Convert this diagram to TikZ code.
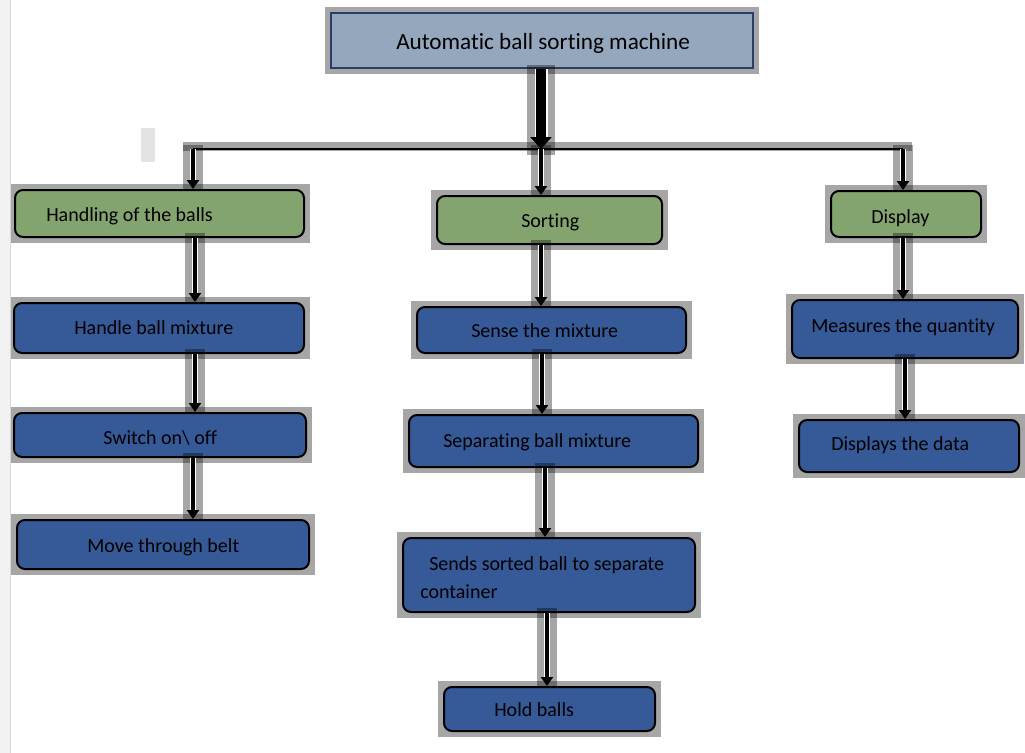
\documentclass[tikz,border=0pt]{standalone}
\usepackage{fontspec}
\setmainfont{Carlito}[Ligatures=NoCommon]
\usetikzlibrary{arrows.meta,backgrounds,calc}
\newdimen\pxu \pxu=0.75pt
\definecolor{topfill}{RGB}{148,167,188}
\definecolor{topline}{RGB}{38,62,104}
\definecolor{stepgreen}{RGB}{131,164,111}
\definecolor{stepblue}{RGB}{54,89,151}

\begin{document}
\begin{tikzpicture}[x=0.75pt,y=-0.75pt,
  box/.style={draw=black, line width=1.5pt, rounded corners=6pt, inner sep=0pt},
  greenbox/.style={box, fill=stepgreen},
  bluebox/.style={box, fill=stepblue},
  boxtext/.style={anchor=base west, inner sep=0pt, font=\fontsize{15}{18}\selectfont},
  halofill/.style={fill=black, opacity=0.35},
  haloline/.style={draw=black, opacity=0.35, line width=20\pxu},
  flow/.style={draw=black, line width=4\pxu, -{Triangle[width=9pt,length=6.75pt]},
    preaction={draw=white, line width=6\pxu, -, shorten >=8\pxu}},
  bigflow/.style={draw=black, line width=10\pxu, -{Triangle[width=15.75pt,length=9pt]},
    preaction={draw=white, line width=13\pxu, -, shorten >=12\pxu}}]
  \useasboundingbox (0,0) rectangle (1025,753);

  % page edge and stray mark
  \fill[gray!10] (0,0) rectangle (10,753);
  \draw[gray!30, line width=1\pxu] (10.5,0) -- (10.5,753);
  \fill[gray!22] (141,128) rectangle (155,162);

  % main box
  \node[draw=topline, line width=1.5pt, fill=topfill, minimum width=422\pxu,
    minimum height=55\pxu, inner sep=0pt] (top) at (542,40.5) {};
  \node[boxtext, font=\fontsize{17.4}{20}\selectfont] (top-t) at (396,49) {Automatic ball sorting machine};

  % level 1
  \node[greenbox, minimum width=289\pxu, minimum height=47\pxu] (hob) at (159.5,213.5) {};
  \node[greenbox, minimum width=225\pxu, minimum height=48\pxu] (srt) at (549.5,220) {};
  \node[greenbox, minimum width=150\pxu, minimum height=46\pxu] (dsp) at (906,214) {};
  \node[boxtext] (hob-t) at (46,221) {Handling of the balls};
  \node[boxtext] (srt-t) at (521,227) {Sorting};
  \node[boxtext] (dsp-t) at (871,223) {Display};

  % left column
  \node[bluebox, minimum width=290\pxu, minimum height=50\pxu] (hbm) at (159,328) {};
  \node[bluebox, minimum width=292\pxu, minimum height=44\pxu] (swo) at (160,435) {};
  \node[bluebox, minimum width=292\pxu, minimum height=49\pxu] (mtb) at (163,544.5) {};
  \node[boxtext] (hbm-t) at (74,334) {Handle ball mixture};
  \node[boxtext] (swo-t) at (103,444) {Switch on\textbackslash{} off};
  \node[boxtext] (mtb-t) at (87,552) {Move through belt};

  % middle column
  \node[bluebox, minimum width=269\pxu, minimum height=46\pxu] (stm) at (551.5,330) {};
  \node[bluebox, minimum width=289\pxu, minimum height=52\pxu] (sbm) at (553.5,441) {};
  \node[bluebox, minimum width=292\pxu, minimum height=74\pxu] (ssb) at (549,575) {};
  \node[bluebox, minimum width=211\pxu, minimum height=44\pxu] (hbl) at (549.5,709) {};
  \node[boxtext] (stm-t) at (471,337) {Sense the mixture};
  \node[boxtext] (sbm-t) at (443,447) {Separating ball mixture};
  \node[boxtext] (ssb-t1) at (429,570) {Sends sorted ball to separate};
  \node[boxtext] (ssb-t2) at (420,598) {container};
  \node[boxtext] (hbl-t) at (494,716) {Hold balls};

  % right column
  \node[bluebox, minimum width=226\pxu, minimum height=58\pxu] (mtq) at (905,329) {};
  \node[bluebox, minimum width=220\pxu, minimum height=52\pxu] (dtd) at (909,446) {};
  \node[boxtext] (mtq-t) at (811,332) {Measures the quantity};
  \node[boxtext] (dtd-t) at (831,450) {Displays the data};

  % grey frames behind the boxes
  \begin{scope}[on background layer]
    \foreach \n in {top,hob,srt,dsp,hbm,swo,mtb,stm,sbm,ssb,hbl,mtq,dtd}
      \fill[halofill] ([shift={(-5,5)}]\n.south west) rectangle ([shift={(5,-5)}]\n.north east);
  \end{scope}

  % bar
  \coordinate (barL) at (193,149);
  \coordinate (barM) at (541,149);
  \coordinate (barR) at (903,149);
  \fill[halofill] (183,142) rectangle (912,151);
  \draw[line width=1.2\pxu] (barL) -- (barR);

  \draw[draw=black, opacity=0.35, line width=28\pxu] ($(top.south -| barM)+(0,-4)$) -- ($(barM)+(0,6)$);
  \draw[bigflow] (top.south -| barM) -- (barM);

  \foreach \b/\c in {hob/barL, srt/barM, dsp/barR} {
    \draw[haloline] ($(\c)+(0,-4)$) -- (\b.north -| \c);
    \draw[flow] (\c) -- (\b.north -| \c);
  }

  % arrows down the columns
  \foreach \a/\b/\x in {hob/hbm/195, hbm/swo/195, swo/mtb/193,
      srt/stm/541, stm/sbm/542, sbm/ssb/545, ssb/hbl/547,
      dsp/mtq/903, mtq/dtd/905} {
    \coordinate (ax) at (\x,0);
    \draw[haloline] ($(\a.south -| ax)+(0,-5)$) -- (\b.north -| ax);
    \draw[flow] (\a.south -| ax) -- (\b.north -| ax);
  }
\end{tikzpicture}
\end{document}
